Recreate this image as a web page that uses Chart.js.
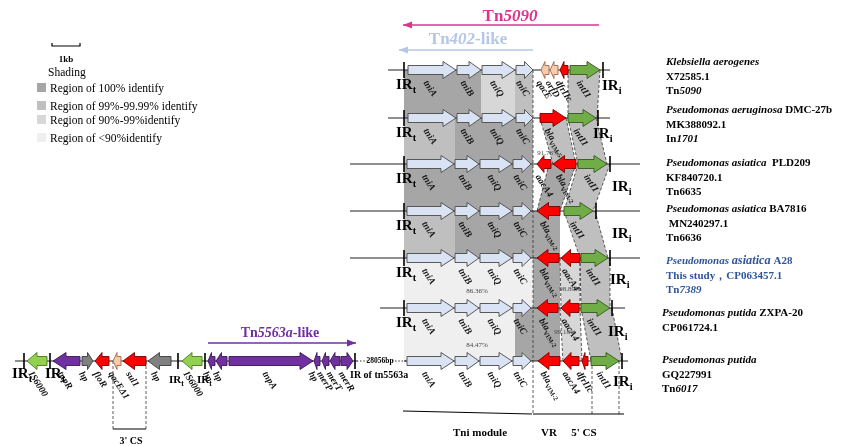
<!DOCTYPE html>
<html><head><meta charset="utf-8">
<script src="https://cdn.jsdelivr.net/npm/chart.js@4.4.1/dist/chart.umd.min.js"></script>
<style>html,body{margin:0;padding:0;background:#fff;overflow:hidden}canvas{display:block}</style>
</head><body>
<canvas id="c" width="842" height="446"></canvas>
<script>
// ================= DATA =================
const rowNames = ['Tn5090','In1701','Tn6635','Tn6636','Tn7389','ZXPA-20','Tn6017'];
const rowLevel = [70,118,164,211,258,308,361];
const backboneStart = [388,388,350,350,350,380,404];
const backboneEnd = [610,610,640,640,640,625,628];
const irtPos = [404,404,404,404,404,404,null];
const iriPos = [603,598,610,596,610,612,622];

const genesTn5090 = [['tniA',408,456,1,'tni'],['tniB',457,481,1,'tni'],['tniQ',482,515,1,'tni'],['tniC',516,533,1,'tni'],
  ['qacE',541,549,-1,'pink'],['orfD',550,558,-1,'pink'],['dfrIIc',560,568,-1,'red'],['intI1',570,600,1,'green']];
const genesIn1701 = [['tniA',408,456,1,'tni'],['tniB',457,481,1,'tni'],['tniQ',482,515,1,'tni'],['tniC',516,533,1,'tni'],
  ['blaVIM-5',540,566,1,'red'],['intI1',568,596,1,'green']];
const genesTn6635 = [['tniA',407,454,1,'tni'],['tniB',455,479,1,'tni'],['tniQ',480,512,1,'tni'],['tniC',513,531,1,'tni'],
  ['aacA4',537,551,-1,'red'],['blaVIM-2',553,576,-1,'red'],['intI1',578,607,1,'green']];
const genesTn6636 = [['tniA',407,454,1,'tni'],['tniB',455,479,1,'tni'],['tniQ',480,512,1,'tni'],['tniC',513,531,1,'tni'],
  ['blaVIM-2',537,560,-1,'red'],['intI1',564,593,1,'green']];
const genesTn7389 = [['tniA',407,454,1,'tni'],['tniB',455,479,1,'tni'],['tniQ',480,512,1,'tni'],['tniC',513,531,1,'tni'],
  ['blaVIM-2',537,559,-1,'red'],['aacA4',561,580,-1,'red'],['intI1',581,608,1,'green']];
const genesZXPA20 = [['tniA',407,454,1,'tni'],['tniB',455,479,1,'tni'],['tniQ',480,512,1,'tni'],['tniC',513,531,1,'tni'],
  ['blaVIM-2',537,558,-1,'red'],['aacA4',561,579,-1,'red'],['intI1',581,610,1,'green']];
const genesTn6017 = [['tniA',407,454,1,'tni'],['tniB',455,479,1,'tni'],['tniQ',480,512,1,'tni'],['tniC',513,531,1,'tni'],
  ['blaVIM-2',538,560,-1,'red'],['aacA4',563,579,-1,'red'],['dfrIIc',582,588,-1,'red'],['intI1',591,619,1,'green']];
const rowGenes = [genesTn5090,genesIn1701,genesTn6635,genesTn6636,genesTn7389,genesZXPA20,genesTn6017];

const genesTn5563a = [['IS6000',27,47,-1,'lime'],['tnpR',53,80,-1,'purple'],['hp',82,93,1,'gray'],['floR',95,109,-1,'red'],
  ['qacEΔ1',113,121,-1,'pink'],['sul1',123,146,-1,'red'],['hp',148,171,-1,'gray'],['IS6000',182,202,-1,'lime'],
  ['hp',208,215,-1,'purple'],['hp',216,227,-1,'purple'],['tnpA',229,313,1,'purple'],['hp',314,320,-1,'purple'],
  ['merP',322,329,-1,'purple'],['merT',330,340,-1,'purple'],['merR',341,353,1,'purple']];
const leftBackbone = [15,357];
const leftTicks = [24,50,178,205,355];
const gapLabel = '28056bp';

// homology links: [upper row, upper start, upper end, lower start, lower end, identity level]
const linkRow   = [0,0,0,0, 1,1,1,1, 2,2,2, 3,3,3, 4,4,4,4, 5,5,5,5];
const linkTopA  = [404,481,515,568, 404,455,540,568, 404,549,578, 404,455,564, 404,533,560,580, 404,515,560,581];
const linkTopB  = [481,515,533,600, 455,533,566,596, 533,576,610, 455,560,595, 533,560,580,610, 515,560,580,612];
const linkBotA  = [404,481,515,568, 404,455,553,578, 404,537,564, 404,455,580, 404,533,561,581, 404,515,563,591];
const linkBotB  = [481,515,533,597, 455,533,576,607, 533,560,593, 455,560,608, 533,560,580,610, 515,560,582,622];
const linkLevel = [0,2,1,1, 1,0,1,1, 0,0,1, 1,0,1, 3,0,2,1, 3,0,2,1];
const identityText = ['91.76%','86.36%','98.89%','99.18%','84.47%'];
const identityX = [548,477,570,565,477];
const identityY = [153,291,289,332,345];

const shadeColors = ['#a6a6a6','#bfbfbf','#d7d7d7','#efefef'];
const shadeNames = ['Region of 100% identify','Region of 99%-99.99% identify','Region of 90%-99%identify','Region of <90%identify'];

const orgLines = [
  [[['Klebsiella aerogenes','i']],[['X72585.1','']],[['Tn',''],['5090','i']]],
  [[['Pseudomonas aeruginosa','i'],[' DMC-27b','']],[['MK388092.1','']],[['In',''],['1701','i']]],
  [[['Pseudomonas asiatica','i'],['  PLD209','']],[['KF840720.1','']],[['Tn6635','']]],
  [[['Pseudomonas asiatica','i'],[' BA7816','']],[[' MN240297.1','']],[['Tn6636','']]],
  [[['Pseudomonas ','i'],['asiatica','iL'],[' A28','']],[['This study，CP063457.1','']],[['Tn',''],['7389','i']]],
  [[['Pseudomonas putida','i'],[' ZXPA-20','']],[['CP061724.1','']]],
  [[['Pseudomonas putida','i']],[['GQ227991','']],[['Tn',''],['6017','i']]]
];
const orgX = [666,666,666,666,666,662,662];
const orgY = [65,113,166,212,264,316,363];
const orgColor = ['#000','#000','#000','#000','#2f5597','#000','#000'];
const iriLabelX = [602,593,612,612,610,608,613];
const iriLabelDy = [20,20,27,27,26,28,25];

// ================= DRAWING =================
const FONT = '"Liberation Serif","Times New Roman",serif';
const kindStyle = {tni:['#dae3f3','#4a4a4a'],red:['#ff0000','#7a0000'],green:['#70ad47','#36561f'],
  lime:['#92d050','#4d7a24'],purple:['#7030a0','#3a1656'],gray:['#808080','#3c3c3c'],pink:['#f8cbad','#a0674a']};

function fnt(sz,it,bd){return (it?'italic ':'')+(bd?'bold ':'')+sz+'px '+FONT;}
function richWidth(ctx,segs,size,bold){let w=0;for(const [t,f] of segs){const sub=f.includes('s');const sz=sub?size*0.68:(f.includes('L')?size*1.12:size);ctx.font=fnt(sz,f.includes('i'),bold);w+=ctx.measureText(t).width;}return w;}
function rich(ctx,segs,x,y,size,color,bold){let cx=x;ctx.fillStyle=color;ctx.textAlign='left';ctx.textBaseline='alphabetic';
  for(const [t,f] of segs){const sub=f.includes('s');const sz=sub?size*0.68:(f.includes('L')?size*1.12:size);
    ctx.font=fnt(sz,f.includes('i'),bold);ctx.fillText(t,cx,y+(sub?size*0.28:0));cx+=ctx.measureText(t).width;}return cx-x;}
function labelSegs(n){if(n.startsWith('bla'))return [['bla','i'],[n.slice(3),'s']];return [[n,'i']];}

function genePath(ctx,a,b,y,dir){const len=b-a,head=Math.min(13,len*0.5),bh=4.5,hh=8.5;ctx.beginPath();
  if(dir>0){ctx.moveTo(a,y-bh);ctx.lineTo(b-head,y-bh);ctx.lineTo(b-head,y-hh);ctx.lineTo(b,y);ctx.lineTo(b-head,y+hh);ctx.lineTo(b-head,y+bh);ctx.lineTo(a,y+bh);}
  else{ctx.moveTo(b,y-bh);ctx.lineTo(a+head,y-bh);ctx.lineTo(a+head,y-hh);ctx.lineTo(a,y);ctx.lineTo(a+head,y+hh);ctx.lineTo(a+head,y+bh);ctx.lineTo(b,y+bh);}
  ctx.closePath();}

const mapPlugin = {
  id:'genemap',
  beforeDatasetsDraw(chart){
    const ctx=chart.ctx, xs=chart.scales.x, ys=chart.scales.y;
    const X=v=>xs.getPixelForValue(v), Y=v=>ys.getPixelForValue(v);
    ctx.save();
    for(let i=0;i<linkRow.length;i++){
      const y1=Y(rowLevel[linkRow[i]]), y2=Y(rowLevel[linkRow[i]+1]);
      ctx.beginPath();ctx.moveTo(X(linkTopA[i]),y1);ctx.lineTo(X(linkTopB[i]),y1);ctx.lineTo(X(linkBotB[i]),y2);ctx.lineTo(X(linkBotA[i]),y2);ctx.closePath();
      ctx.fillStyle=shadeColors[linkLevel[i]];ctx.fill();
    }
    ctx.setLineDash([3,2]);ctx.strokeStyle='#333';ctx.lineWidth=0.8;
    for(let i=0;i<linkRow.length;i++){
      if(linkTopA[i]<536) continue;
      const y1=Y(rowLevel[linkRow[i]]), y2=Y(rowLevel[linkRow[i]+1]);
      ctx.beginPath();ctx.moveTo(X(linkTopA[i]),y1);ctx.lineTo(X(linkBotA[i]),y2);ctx.moveTo(X(linkTopB[i]),y1);ctx.lineTo(X(linkBotB[i]),y2);ctx.stroke();
    }
    ctx.beginPath();ctx.moveTo(X(533),Y(rowLevel[0]));ctx.lineTo(X(533),Y(414));
    ctx.moveTo(X(592),Y(rowLevel[6]));ctx.lineTo(X(592),Y(414));
    ctx.moveTo(X(619),Y(rowLevel[6]));ctx.lineTo(X(619),Y(414));
    ctx.moveTo(X(113),Y(rowLevel[6]));ctx.lineTo(X(113),Y(429));
    ctx.moveTo(X(146),Y(rowLevel[6]));ctx.lineTo(X(146),Y(429));
    ctx.stroke();
    ctx.setLineDash([]);ctx.strokeStyle='#000';ctx.lineWidth=1;
    ctx.beginPath();ctx.moveTo(X(113),Y(429));ctx.lineTo(X(146),Y(429));
    ctx.moveTo(X(403),Y(411));ctx.lineTo(X(532),Y(414));
    ctx.moveTo(X(533),Y(414));ctx.lineTo(X(624),Y(414));ctx.stroke();
    ctx.setLineDash([1.2,2]);ctx.lineWidth=1.2;ctx.beginPath();
    ctx.moveTo(X(357),Y(rowLevel[6]));ctx.lineTo(X(368),Y(rowLevel[6]));
    ctx.moveTo(X(392),Y(rowLevel[6]));ctx.lineTo(X(406),Y(rowLevel[6]));ctx.stroke();ctx.setLineDash([]);
    ctx.restore();
  },
  afterDatasetsDraw(chart){
    const ctx=chart.ctx, xs=chart.scales.x, ys=chart.scales.y;
    const X=v=>xs.getPixelForValue(v), Y=v=>ys.getPixelForValue(v);
    ctx.save();
    const tick=(x,y)=>{ctx.strokeStyle='#000';ctx.lineWidth=1.6;ctx.beginPath();ctx.moveTo(X(x),Y(y)-8);ctx.lineTo(X(x),Y(y)+8);ctx.stroke();};
    const drawGenes=(list,y)=>{
      for(const g of list){const st=kindStyle[g[4]];genePath(ctx,X(g[1]),X(g[2]),Y(y),g[3]);
        ctx.fillStyle=st[0];ctx.fill();ctx.strokeStyle=st[1];ctx.lineWidth=0.9;ctx.stroke();}
      for(const g of list){const cx=(X(g[1])+X(g[2]))/2;ctx.save();ctx.translate(cx-3,Y(y)+9);ctx.rotate(57*Math.PI/180);
        rich(ctx,labelSegs(g[0]),0,7,9.5,'#111',true);ctx.restore();}
    };
    for(let r=0;r<rowLevel.length;r++){
      if(irtPos[r]!==null) tick(irtPos[r],rowLevel[r]);
      tick(iriPos[r],rowLevel[r]);
      drawGenes(rowGenes[r],rowLevel[r]);
      if(irtPos[r]!==null) rich(ctx,[['IR',''],['t','s']],X(396),Y(rowLevel[r])+19,15,'#000',true);
      rich(ctx,[['IR',''],['i','s']],X(iriLabelX[r]),Y(rowLevel[r])+iriLabelDy[r],15,'#000',true);
    }
    for(const t of leftTicks) tick(t,rowLevel[6]);
    drawGenes(genesTn5563a,rowLevel[6]);
    rich(ctx,[['IR',''],['t','s']],X(12),Y(378),15,'#000',true);
    rich(ctx,[['IR',''],['t','s']],X(45),Y(378),15,'#000',true);
    rich(ctx,[['IR',''],['t','s']],X(169),Y(383),11,'#000',true);
    rich(ctx,[['IR',''],['t','s']],X(197),Y(383),11,'#000',true);
    rich(ctx,[['IR of tn5563a','']],X(350),Y(378),10,'#000',true);
    ctx.font=fnt(7.5,false,true);ctx.fillStyle='#000';ctx.textAlign='center';ctx.textBaseline='middle';
    ctx.fillText(gapLabel,X(380),Y(rowLevel[6]));
    const elArrow=(x1,x2,y,color,lw)=>{ctx.strokeStyle=color;ctx.fillStyle=color;ctx.lineWidth=lw;ctx.beginPath();ctx.moveTo(X(x1),Y(y));ctx.lineTo(X(x2),Y(y));ctx.stroke();
      const d=Math.sign(x2-x1);ctx.beginPath();ctx.moveTo(X(x2),Y(y));ctx.lineTo(X(x2)-d*9,Y(y)-3.5);ctx.lineTo(X(x2)-d*9,Y(y)+3.5);ctx.closePath();ctx.fill();};
    elArrow(599,403,25,'#d9368e',1.6);
    elArrow(533,399,50,'#b4c7e7',1.6);
    elArrow(208,356,343,'#7030a0',1.4);
    const ctr=(segs,cx,y,size,color)=>{const w=richWidth(ctx,segs,size,true);rich(ctx,segs,X(cx)-w/2,Y(y),size,color,true);};
    ctr([['Tn',''],['5090','i']],510,21,17,'#d9368e');
    ctr([['Tn',''],['402','i'],['-like','']],468,44,17,'#b4c7e7');
    ctr([['Tn',''],['5563a','i'],['-like','']],280,337,14,'#7030a0');
    ctr([['Tni module','']],480,436,11,'#000');
    ctr([['VR','']],549,436,11,'#000');
    ctr([["5' CS",'']],584,436,11,'#000');
    ctr([["3' CS",'']],131,444,10,'#000');
    ctx.font=fnt(7,false,false);ctx.fillStyle='#444';ctx.textAlign='center';ctx.textBaseline='middle';
    for(let i=0;i<identityText.length;i++) ctx.fillText(identityText[i],X(identityX[i]),Y(identityY[i]));
    for(let g=0;g<orgLines.length;g++) orgLines[g].forEach((ln,k)=>rich(ctx,ln,X(orgX[g]),Y(orgY[g]+k*14.5),11,orgColor[g],true));
    ctx.strokeStyle='#000';ctx.lineWidth=1.2;ctx.beginPath();ctx.moveTo(X(52),Y(43));ctx.lineTo(X(52),Y(46));ctx.lineTo(X(80),Y(46));ctx.lineTo(X(80),Y(43));ctx.stroke();
    ctr([['1kb','']],66,62,9,'#000');
    rich(ctx,[['Shading','']],X(48),Y(76),11.5,'#000',false);
    const legY=[92,110,124,142];
    for(let i=0;i<4;i++){ctx.fillStyle=shadeColors[i];ctx.fillRect(X(37),Y(legY[i]-9),9,9);
      rich(ctx,[[shadeNames[i],'']],X(50),Y(legY[i]),11.5,'#000',false);}
    ctx.restore();
  }
};

const backboneSets = rowLevel.map((y,r)=>({data:[{x:backboneStart[r],y},{x:backboneEnd[r],y}]}));
backboneSets.push({data:[{x:leftBackbone[0],y:rowLevel[6]},{x:leftBackbone[1],y:rowLevel[6]}]});
backboneSets.forEach(d=>{d.showLine=true;d.borderColor='#222';d.borderWidth=1.2;d.pointRadius=0;d.fill=false;});

new Chart(document.getElementById('c'),{
  type:'scatter',
  data:{datasets:backboneSets},
  options:{responsive:false,animation:false,devicePixelRatio:1,
    layout:{padding:0},
    plugins:{legend:{display:false},tooltip:{enabled:false},title:{display:false}},
    scales:{x:{type:'linear',min:0,max:842,display:false},y:{type:'linear',min:0,max:446,reverse:true,display:false}}},
  plugins:[mapPlugin]
});
</script>
</body></html>
